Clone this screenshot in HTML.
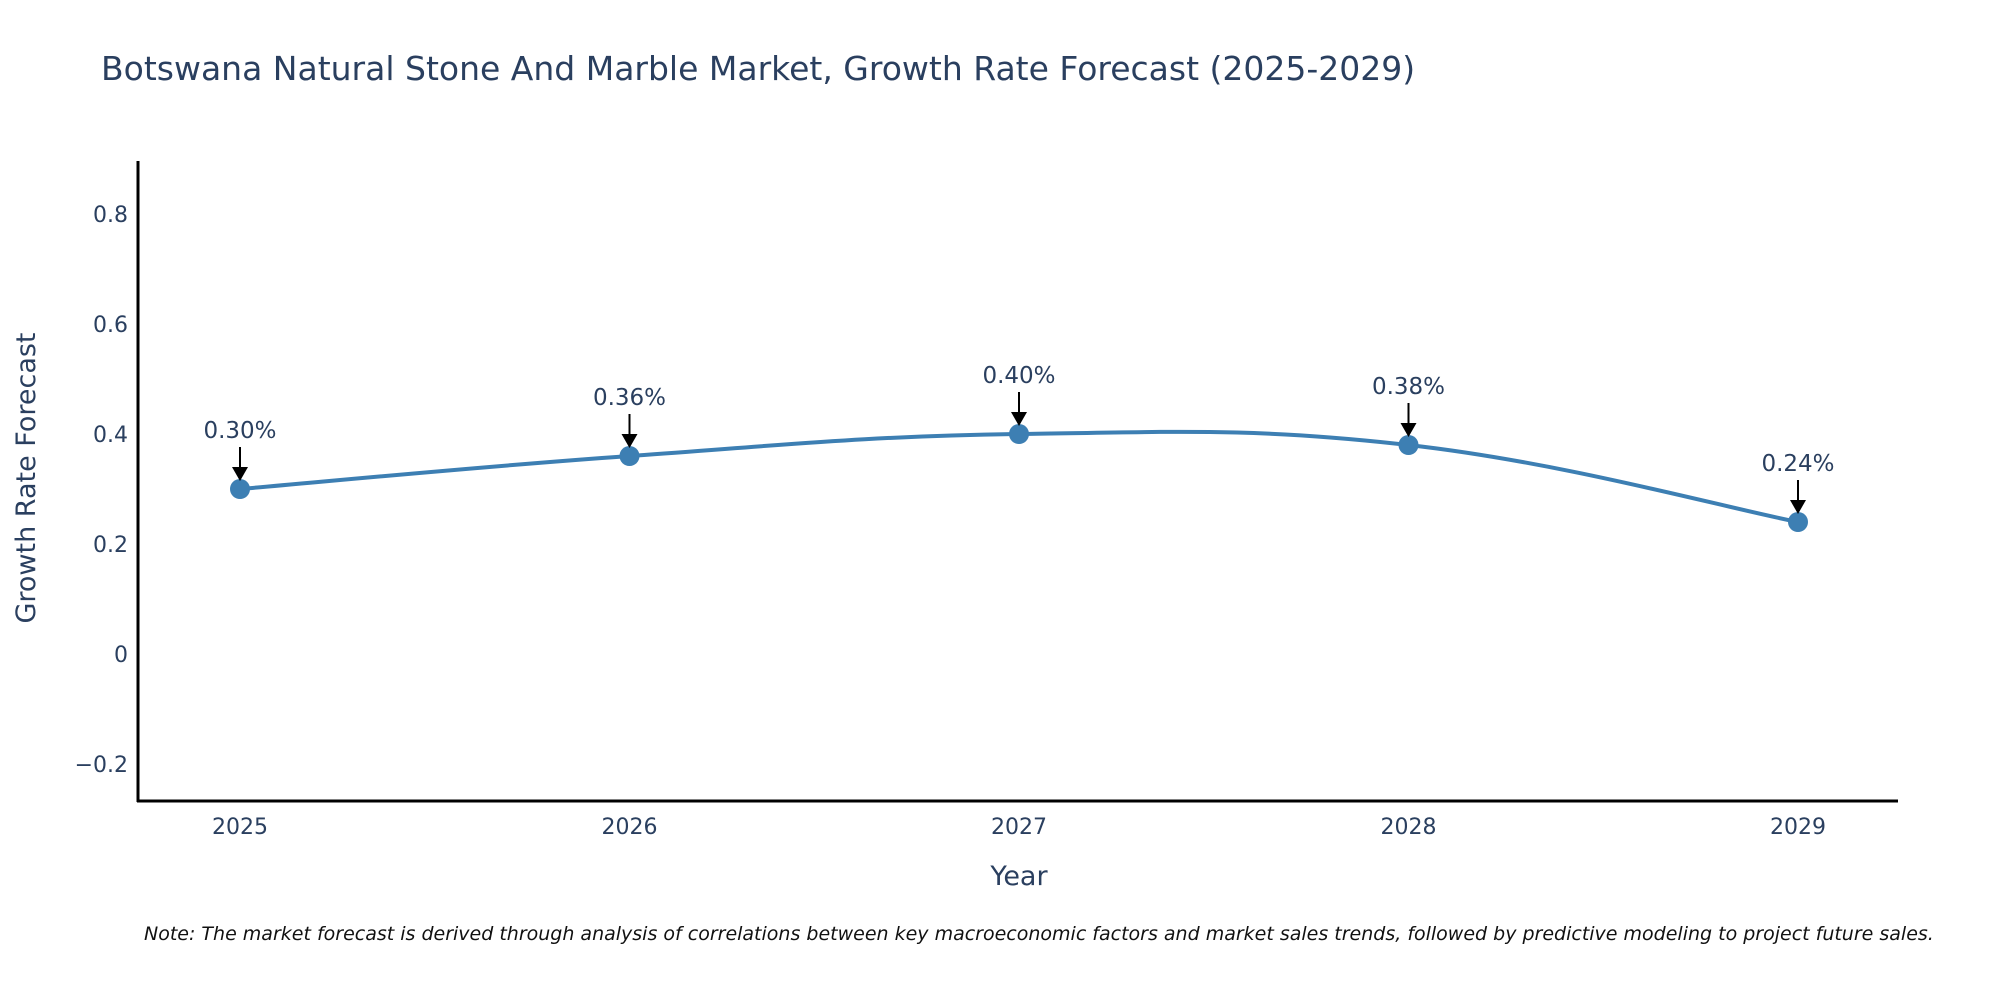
<!DOCTYPE html>
<html><head><meta charset="utf-8"><style>
html,body{margin:0;padding:0;background:#fff;}
svg{display:block;font-family:"DejaVu Sans","Liberation Sans",sans-serif;}
</style></head><body>
<svg id="chart" width="2000" height="1000" viewBox="0 0 2000 1000">
<text x="101" y="80" font-size="33" fill="#2a3f5f">Botswana Natural Stone And Marble Market, Growth Rate Forecast (2025-2029)</text>
<g id="yticks"></g>
<g id="xticks"></g>
<line x1="138" y1="161" x2="138" y2="802" stroke="#000" stroke-width="3"/>
<line x1="137" y1="801" x2="1898" y2="801" stroke="#000" stroke-width="3"/>
<text x="0" y="0" transform="translate(35,478) rotate(-90)" text-anchor="middle" font-size="27" fill="#2a3f5f">Growth Rate Forecast</text>
<text x="1019" y="885" text-anchor="middle" font-size="27" fill="#2a3f5f">Year</text>
<path id="line" fill="none" stroke="#3d7fb3" stroke-width="4"/>
<g id="points"></g>
<text x="144" y="940" font-size="19" font-style="italic" fill="#111">Note: The market forecast is derived through analysis of correlations between key macroeconomic factors and market sales trends, followed by predictive modeling to project future sales.</text>
</svg>
<script>
const years = ["2025","2026","2027","2028","2029"];
const values = [0.30, 0.36, 0.40, 0.38, 0.24];
const valueLabels = ["0.30%","0.36%","0.40%","0.38%","0.24%"];
const yTickValues = [-0.2, 0, 0.2, 0.4, 0.6, 0.8];
const yTickLabels = ["\u22120.2","0","0.2","0.4","0.6","0.8"];

const NS = "http://www.w3.org/2000/svg";
function xPos(i){ return 240 + i * 389.5; }
function yPos(v){ return 654 - v * 550; }
function mk(tag, attrs, parent){ const e=document.createElementNS(NS,tag); for(const k in attrs) e.setAttribute(k, attrs[k]); parent.appendChild(e); return e; }

const yt = document.getElementById('yticks');
yTickValues.forEach((v,i)=>{
  const t = mk('text',{x:128,y:yPos(v)+8,'text-anchor':'end','font-size':22,fill:'#2a3f5f'},yt);
  t.textContent = yTickLabels[i];
  
  
});
const xt = document.getElementById('xticks');
years.forEach((y,i)=>{
  const t = mk('text',{x:xPos(i),y:834,'text-anchor':'middle','font-size':22,fill:'#2a3f5f'},xt);
  t.textContent = y;
  
  
});

// smooth spline (Catmull-Rom)
const pts = values.map((v,i)=>[xPos(i), yPos(v)]);
let d = `M${pts[0][0]},${pts[0][1]}`;
for(let i=0;i<pts.length-1;i++){
  const p0=pts[Math.max(i-1,0)], p1=pts[i], p2=pts[i+1], p3=pts[Math.min(i+2,pts.length-1)];
  const s=0.2;
  const c1=[p1[0]+(p2[0]-p0[0])*s, p1[1]+(p2[1]-p0[1])*s];
  const c2=[p2[0]-(p3[0]-p1[0])*s, p2[1]-(p3[1]-p1[1])*s];
  d += ` C${c1[0]},${c1[1]} ${c2[0]},${c2[1]} ${p2[0]},${p2[1]}`;
}
document.getElementById('line').setAttribute('d', d);

const pg = document.getElementById('points');
pts.forEach((p,i)=>{
  const c = mk('circle',{cx:p[0],cy:p[1],r:10,fill:'#3d7fb3'},pg);
  
  
  const a = mk('line',{x1:p[0],y1:p[1]-42,x2:p[0],y2:p[1]-20,stroke:'#000','stroke-width':2},pg);
  
  
  const h = mk('polygon',{points:`${p[0]-8},${p[1]-22} ${p[0]+8},${p[1]-22} ${p[0]},${p[1]-8}`,fill:'#000'},pg);
  
  
  const t = mk('text',{x:p[0],y:p[1]-51,'text-anchor':'middle','font-size':23,fill:'#2a3f5f'},pg);
  t.textContent = valueLabels[i];
  
  
});
</script>
</body></html>
